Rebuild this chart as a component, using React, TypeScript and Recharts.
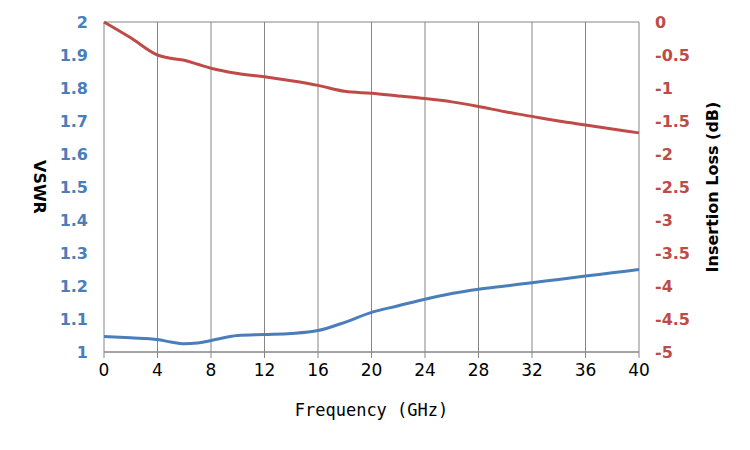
import React from 'react';
import { LineChart, Line, XAxis, YAxis, CartesianGrid, Label } from 'recharts';

const freq = [0, 2, 4, 5, 6, 7, 8, 10, 12, 14, 16, 18, 20, 22, 24, 26, 28, 30, 32, 34, 36, 38, 40];
const vswr = [1.047, 1.043, 1.038, 1.03, 1.025, 1.027, 1.035, 1.05, 1.053, 1.056, 1.065, 1.09, 1.12, 1.14, 1.16, 1.177, 1.19, 1.2, 1.21, 1.22, 1.23, 1.24, 1.25];
const loss = [0, -0.24, -0.5, -0.55, -0.58, -0.64, -0.7, -0.78, -0.83, -0.89, -0.96, -1.05, -1.08, -1.12, -1.16, -1.21, -1.28, -1.36, -1.43, -1.5, -1.56, -1.62, -1.68];
const xTicks = [0, 4, 8, 12, 16, 20, 24, 28, 32, 36, 40];
const vTicks = [1, 1.1, 1.2, 1.3, 1.4, 1.5, 1.6, 1.7, 1.8, 1.9, 2];
const lTicks = [-5, -4.5, -4, -3.5, -3, -2.5, -2, -1.5, -1, -0.5, 0];

const data = freq.map((f, i) => ({ f, vswr: vswr[i], loss: loss[i] }));
const font = 'DejaVu Sans, Verdana, sans-serif';

export default function App() {
  return (
    <div style={{ margin: -8, background: '#fff', width: 750, height: 450 }}>
      <LineChart width={750} height={450} data={data} margin={{ top: 22, right: 20, left: 20, bottom: 48 }}>
        <CartesianGrid stroke="#868686" strokeWidth={1} />
        <XAxis dataKey="f" type="number" domain={[0, 40]} ticks={xTicks} stroke="#868686" tickSize={6}
          tick={{ fill: '#000', fontSize: 17, fontFamily: font }} height={50} tickMargin={6}>
          <Label value="Frequency (GHz)" position="insideBottom" offset={-14} style={{ fontFamily: 'DejaVu Sans Mono, monospace', fontSize: 17, fill: '#000' }} />
        </XAxis>
        <YAxis yAxisId="l" domain={[1, 2]} ticks={vTicks} width={84} axisLine={false} tickLine={false}
          tick={{ fill: '#4a7ebb', fontSize: 16, fontWeight: 'bold', fontFamily: font }} tickMargin={10}>
          <Label value="VSWR" angle={90} position="insideLeft" offset={20} style={{ fontFamily: font, fontWeight: 'bold', fontSize: 16, fill: '#000', textAnchor: 'middle' }} />
        </YAxis>
        <YAxis yAxisId="r" orientation="right" domain={[-5, 0]} ticks={lTicks} width={91} axisLine={false} tickLine={false}
          tick={{ fill: '#be4b48', fontSize: 16, fontWeight: 'bold', fontFamily: font }} tickMargin={10}>
          <Label value="Insertion Loss (dB)" angle={-90} position="insideRight" offset={18} style={{ fontFamily: font, fontWeight: 'bold', fontSize: 16, fill: '#000', textAnchor: 'middle' }} />
        </YAxis>
        <Line yAxisId="l" dataKey="vswr" type="monotone" stroke="#4a7ebb" strokeWidth={3} dot={false} isAnimationActive={false} />
        <Line yAxisId="r" dataKey="loss" type="monotone" stroke="#be4b48" strokeWidth={3} dot={false} isAnimationActive={false} />
      </LineChart>
    </div>
  );
}
